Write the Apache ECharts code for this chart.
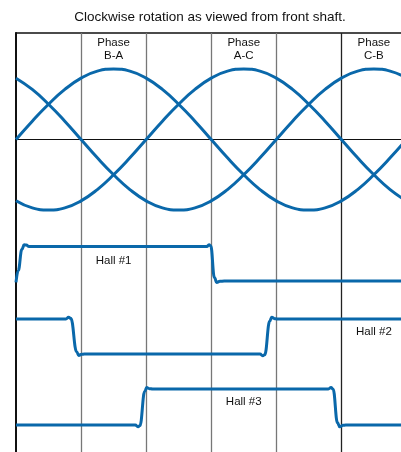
<!DOCTYPE html>
<html>
<head>
<meta charset="utf-8">
<script src="https://cdn.jsdelivr.net/npm/echarts@6/dist/echarts.min.js"></script>
<style>html,body{margin:0;padding:0;background:#fff}#c{width:401px;height:452px}</style>
</head>
<body>
<div id="c"></div>
<script>
// electrical angle (degrees) of sampled points
const angles = [0,15,30,45,60,75,90,105,120,135,150,165,180,195,210,225,240,255,270,285,300,315,330,345,360];
// back-EMF phases (normalized)
const phaseBA = [0,0.26,0.5,0.71,0.87,0.97,1,0.97,0.87,0.71,0.5,0.26,0,-0.26,-0.5,-0.71,-0.87,-0.97,-1,-0.97,-0.87,-0.71,-0.5,-0.26,0];
const phaseAC = [-0.87,-0.97,-1,-0.97,-0.87,-0.71,-0.5,-0.26,0,0.26,0.5,0.71,0.87,0.97,1,0.97,0.87,0.71,0.5,0.26,0,-0.26,-0.5,-0.71,-0.87];
const phaseCB = [0.87,0.71,0.5,0.26,0,-0.26,-0.5,-0.71,-0.87,-0.97,-1,-0.97,-0.87,-0.71,-0.5,-0.26,0,0.26,0.5,0.71,0.87,0.97,1,0.97,0.87];
// hall sensor levels [angle, level]
const hall1 = [[0,-0.04],[2,0.3],[5.5,0.92],[7.5,1.05],[9.5,1.04],[12,1.0],[176,1.0],[178,1.05],[179.5,1.02],[183,0.1],[185,-0.04],[188,-0.01],[192,0],[355,0]];
const hall2 = [[0,1],[46,1],[48.5,1.05],[50.5,1.02],[56,0.06],[57.8,-0.04],[60.5,-0.01],[63,0],[225,0],[227.5,-0.05],[229.3,-0.02],[234,0.94],[235.8,1.05],[238.5,1.01],[241,1],[355,1]];
const hall3 = [[0,0],[110,0],[112.5,-0.05],[114.2,-0.02],[118.8,0.94],[120.5,1.04],[123,1.01],[126,1],[288,1],[290.5,1.04],[292.3,1.0],[296.5,0.06],[298.5,-0.05],[301.5,-0.01],[304,0],[355,0]];
// vertical division lines every 60 degrees
const phaseTicks = [60,120,180,240,300];
const tickColors = ['#777','#777','#777','#777','#222'];
// labels: [angle, level, text, gridIndex]
const phaseLabels = [[90,1.28,'Phase\nB-A',1],[210,1.28,'Phase\nA-C',1],[330,1.28,'Phase\nC-B',1]];
const hallLabels = [[90,0.59,'Hall #1',2],[330,0.63,'Hall #2',3],[210,0.64,'Hall #3',4]];

const BLUE = '#0a68aa';
const FONT = '"Liberation Sans", Arial, Helvetica, sans-serif';
const XMAX = 355;

const chart = echarts.init(document.getElementById('c'), null, {renderer:'canvas'});

const grids = [
  {left:16, right:0, top:33, bottom:0},
  {left:16, right:0, top:69, height:141},
  {left:16, right:0, top:246.5, height:34.5},
  {left:16, right:0, top:319, height:35},
  {left:16, right:0, top:389, height:36}
];
const xAxes = grids.map((g,i)=>({
  type:'value', gridIndex:i, min:0, max:XMAX,
  position: i===0 ? 'top' : 'bottom',
  axisLine:{show:i===0, onZero:false, lineStyle:{color:'#111', width:1.5}},
  axisTick:{show:false}, axisLabel:{show:false}, splitLine:{show:false}
}));
const yAxes = grids.map((g,i)=>({
  type:'value', gridIndex:i,
  min: i===1 ? -1 : 0, max: 1,
  axisLine:{show:i===0, onZero:false, lineStyle:{color:'#111', width:2}},
  axisTick:{show:false}, axisLabel:{show:false}, splitLine:{show:false}
}));

function waveSeries(name, vals, extra){
  return Object.assign({
    type:'line', name, xAxisIndex:1, yAxisIndex:1,
    data: angles.map((a,i)=>[a, vals[i]]),
    smooth:0.5, symbol:'none', clip:false, z:5,
    lineStyle:{color:BLUE, width:3}
  }, extra||{});
}
function hallSeries(name, data, gi){
  return {
    type:'line', name, xAxisIndex:gi, yAxisIndex:gi,
    data, smooth:0.45, smoothMonotone:'x', symbol:'none', clip:false, z:5,
    lineStyle:{color:BLUE, width:3}
  };
}

const series = [
  {
    type:'line', xAxisIndex:0, yAxisIndex:0, data:[[0,0],[XMAX,0]],
    symbol:'none', lineStyle:{opacity:0}, silent:true, z:1,
    markLine:{
      silent:true, symbol:'none', animation:false,
      label:{show:false},
      data: phaseTicks.map((t,i)=>({xAxis:t, lineStyle:{color:tickColors[i], width:1.3, type:'solid'}}))
    }
  },
  waveSeries('B-A', phaseBA, {
    markLine:{silent:true, symbol:'none', animation:false, label:{show:false},
      data:[{yAxis:0, lineStyle:{color:'#111', width:1, type:'solid'}}]}
  }),
  waveSeries('A-C', phaseAC),
  waveSeries('C-B', phaseCB),
  hallSeries('Hall 1', hall1, 2),
  hallSeries('Hall 2', hall2, 3),
  hallSeries('Hall 3', hall3, 4)
];

chart.setOption({
  animation:false,
  backgroundColor:'#fff',
  grid:grids, xAxis:xAxes, yAxis:yAxes, series
});

// text labels placed through the axes' own scales
const texts = phaseLabels.concat(hallLabels).map(l=>{
  const p = chart.convertToPixel({gridIndex:l[3]}, [l[0], l[1]]);
  return {
    type:'text', x:p[0], y:p[1], z:10, silent:true,
    style:{text:l[2], fill:'#111', font:'11.5px ' + FONT, lineHeight:13,
      textAlign:'center', textVerticalAlign:'middle', align:'center', verticalAlign:'middle'}
  };
});
texts.push({
  type:'text', x:210, y:17, z:10, silent:true,
  style:{text:'Clockwise rotation as viewed from front shaft.', fill:'#111',
    font:'13.5px ' + FONT, textAlign:'center', textVerticalAlign:'middle', align:'center', verticalAlign:'middle'}
});
chart.setOption({graphic:texts});
</script>
</body>
</html>
